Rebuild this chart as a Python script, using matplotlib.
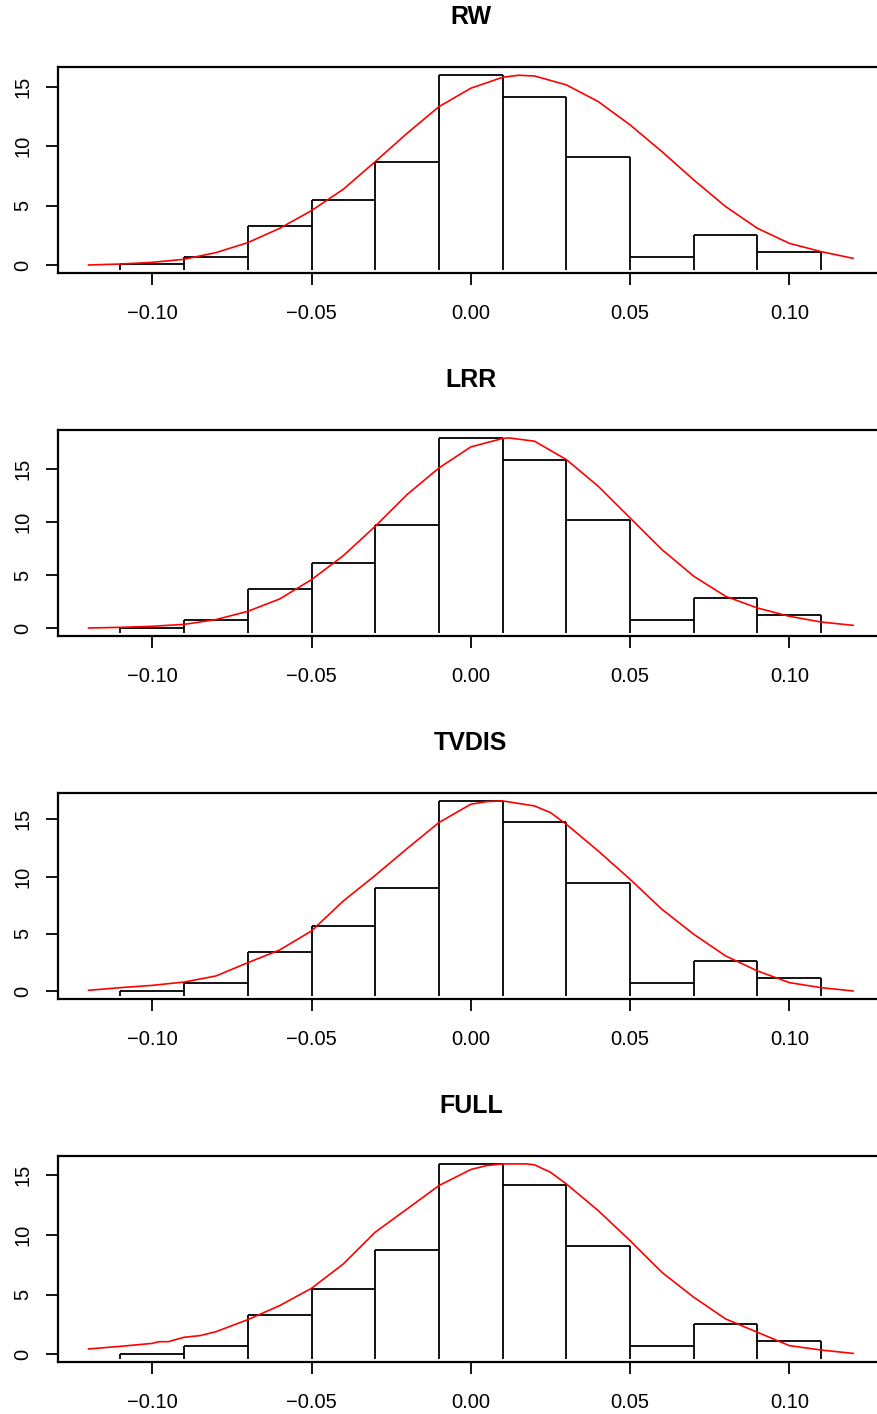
import numpy as np
import matplotlib.pyplot as plt

plt.rcParams['font.family'] = ['Liberation Sans', 'DejaVu Sans']

# histogram bins (width 0.02)
bin_edges = [-0.11, -0.09, -0.07, -0.05, -0.03, -0.01, 0.01, 0.03, 0.05, 0.07, 0.09, 0.11]

# bar heights
rw_bars = [0.05, 0.71, 3.29, 5.45, 8.70, 15.99, 14.17, 9.07, 0.71, 2.56, 1.07]
lrr_bars = [0.03, 0.79, 3.68, 6.10, 9.74, 17.90, 15.86, 10.15, 0.79, 2.86, 1.19]
tvdis_bars = [0.02, 0.74, 3.45, 5.68, 9.03, 16.60, 14.76, 9.44, 0.74, 2.66, 1.15]
full_bars = [0.02, 0.71, 3.30, 5.47, 8.77, 15.96, 14.20, 9.10, 0.71, 2.56, 1.11]

# red density curves
rw_cx = [-0.12, -0.11, -0.10, -0.09, -0.08, -0.07, -0.06, -0.05, -0.04, -0.03, -0.02, -0.01,
         0.00, 0.01, 0.015, 0.02, 0.03, 0.04, 0.05, 0.06, 0.07, 0.08, 0.09, 0.10, 0.11, 0.12]
rw_cy = [0.01, 0.09, 0.23, 0.49, 1.05, 1.89, 3.09, 4.58, 6.38, 8.70, 11.08, 13.32,
         14.87, 15.79, 15.96, 15.90, 15.15, 13.75, 11.79, 9.54, 7.16, 4.92, 3.09, 1.83, 1.13, 0.57]

lrr_cx = [-0.12, -0.11, -0.10, -0.09, -0.08, -0.07, -0.06, -0.05, -0.04, -0.03, -0.02, -0.01,
          0.00, 0.01, 0.012, 0.02, 0.03, 0.04, 0.05, 0.06, 0.07, 0.08, 0.09, 0.10, 0.11, 0.12]
lrr_cy = [0.01, 0.07, 0.17, 0.35, 0.80, 1.58, 2.74, 4.56, 6.82, 9.58, 12.57, 15.07,
          17.05, 17.85, 17.90, 17.59, 15.86, 13.35, 10.37, 7.39, 4.88, 2.99, 1.89, 1.11, 0.57, 0.26]

tvdis_cx = [-0.12, -0.11, -0.10, -0.09, -0.08, -0.07, -0.06, -0.05, -0.04, -0.03, -0.02, -0.01,
            0.00, 0.005, 0.01, 0.02, 0.025, 0.03, 0.04, 0.05, 0.06, 0.07, 0.08, 0.09, 0.10, 0.11, 0.12]
tvdis_cy = [0.07, 0.30, 0.50, 0.79, 1.32, 2.48, 3.59, 5.25, 7.87, 10.10, 12.44, 14.71,
            16.31, 16.54, 16.60, 16.16, 15.58, 14.56, 12.23, 9.76, 7.14, 4.96, 3.07, 1.76, 0.74, 0.30, 0.01]

full_cx = [-0.12, -0.11, -0.10, -0.098, -0.095, -0.09, -0.085, -0.08, -0.07, -0.06, -0.05, -0.04,
           -0.03, -0.02, -0.01, 0.00, 0.005, 0.01, 0.0175, 0.02, 0.025, 0.03, 0.04, 0.05, 0.06,
           0.07, 0.08, 0.09, 0.10, 0.11, 0.12]
full_cy = [0.43, 0.65, 0.90, 1.04, 1.04, 1.41, 1.55, 1.88, 2.89, 4.07, 5.52, 7.57,
           10.23, 12.18, 14.14, 15.49, 15.82, 15.96, 15.96, 15.88, 15.26, 14.28, 12.04, 9.52, 6.86,
           4.77, 2.95, 1.83, 0.71, 0.34, 0.06]

titles = ["RW", "LRR", "TVDIS", "FULL"]
all_bars = [rw_bars, lrr_bars, tvdis_bars, full_bars]
all_cx = [rw_cx, lrr_cx, tvdis_cx, full_cx]
all_cy = [rw_cy, lrr_cy, tvdis_cy, full_cy]

x_ticks = [-0.10, -0.05, 0.00, 0.05, 0.10]
x_tick_labels = ["\u22120.10", "\u22120.05", "0.00", "0.05", "0.10"]
y_ticks = [0, 5, 10, 15]

W, H = 878, 1414
fig = plt.figure(figsize=(W / 100, H / 100), dpi=100)

box_tops = [67.3, 430.3, 793.3, 1156.3]
box_h = 205.4
left_px = 58.3
width_px = 825.0

for i in range(4):
    top = box_tops[i]
    ax = fig.add_axes([left_px / W, 1 - (top + box_h) / H, width_px / W, box_h / H])
    bars = np.array(all_bars[i])
    edges = np.array(bin_edges)
    ymax = max(bars.max(), max(all_cy[i]))
    ax.set_xlim(-0.1295, 0.1295)
    ax.set_ylim(-0.04 * ymax, 1.04 * ymax)
    base = -0.026 * ymax

    # bar outlines (no bottom edge)
    ax.hlines(bars, edges[:-1], edges[1:], color='black', lw=1.3)
    padded = np.concatenate([[0], bars, [0]])
    edge_h = np.maximum(padded[:-1], padded[1:])
    ax.vlines(edges, base, edge_h, color='black', lw=1.3)

    ax.plot(all_cx[i], all_cy[i], color='red', lw=1.2)

    for s in ax.spines.values():
        s.set_linewidth(1.6)
    ax.set_xticks(x_ticks)
    ax.set_xticklabels(x_tick_labels)
    ax.set_yticks(y_ticks)
    ax.set_yticklabels([str(v) for v in y_ticks], rotation=90, va='center')
    ax.tick_params(axis='both', length=8.6, width=1.3, labelsize=14.5)
    ax.tick_params(axis='x', pad=14)
    ax.tick_params(axis='y', pad=10)

    fig.text(470.8 / W, 1 - (top - 50.5) / H, titles[i], ha='center', va='center',
             fontsize=18, fontweight='bold')

fig.savefig("out.png", dpi=100)
